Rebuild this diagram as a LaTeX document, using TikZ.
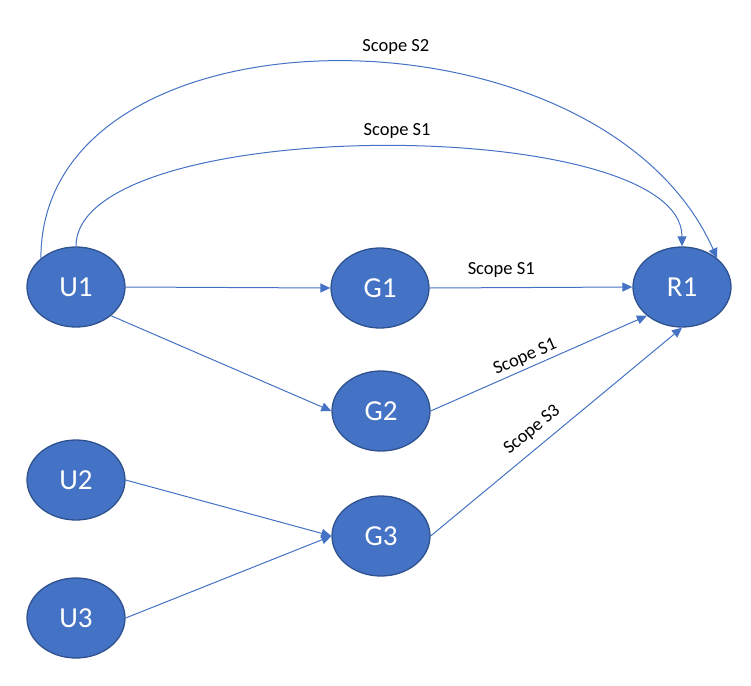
\documentclass[tikz,border=0pt]{standalone}
\usepackage{fontspec}
\setmainfont{Carlito}
\usetikzlibrary{arrows.meta,shapes.geometric}
\definecolor{nodefill}{HTML}{4472C4}
\definecolor{nodeedge}{HTML}{2F528F}
\definecolor{linkblue}{HTML}{4472C4}
\begin{document}
\begin{tikzpicture}[x=1pt, y=-1pt,
  entity/.style={ellipse, draw=nodeedge, fill=nodefill, line width=1.3pt,
    minimum width=98pt, minimum height=80pt, inner sep=0pt,
    text=white, font=\fontsize{29}{34}\selectfont},
  link/.style={draw=linkblue, line width=1pt, -{Triangle[length=10pt,width=9pt]}},
  scopelbl/.style={font=\fontsize{18.5}{22}\selectfont, text=black, inner xsep=0pt, anchor=south}
]
\useasboundingbox (0,0) rectangle (751,685);

% entities
\node[entity] (U1) at (76,287) {U1};
\node[entity] (U2) at (76,480) {U2};
\node[entity] (U3) at (76,618) {U3};
\node[entity] (G1) at (380,288) {G1};
\node[entity] (G2) at (381,411) {G2};
\node[entity] (G3) at (381,536) {G3};
\node[entity] (R1) at (682,287) {R1};

% straight links
\draw[link] (U1.east) -- (G1.west);
\draw[link] (U1.south east) -- (G2.west);
\draw[link] (U2.east) -- (G3.west);
\draw[link] (U3.east) -- (G3.west);
\draw[link] (G1.east) -- node[scopelbl, pos=.353, inner ysep=10pt] {Scope S1} (R1.west);
\draw[link] (G2.east) -- node[scopelbl, sloped, pos=.458, inner ysep=3pt] {Scope S1} (R1.south west);
\draw[link] (G3.east) -- node[scopelbl, sloped, pos=.4465, inner ysep=8.7pt] {Scope S3} (R1.south);

% arched links over the top
\draw[link] (U1.north) .. controls +(0,-133) and +(0,-133)
  .. node[scopelbl, pos=.52, inner ysep=8pt] {Scope S1} (R1.north);
\draw[link] (U1.north west) .. controls +(0,-261) and +(-117,-263)
  .. node[scopelbl, pos=.565, inner ysep=9.7pt] {Scope S2} (R1.north east);
\end{tikzpicture}
\end{document}
